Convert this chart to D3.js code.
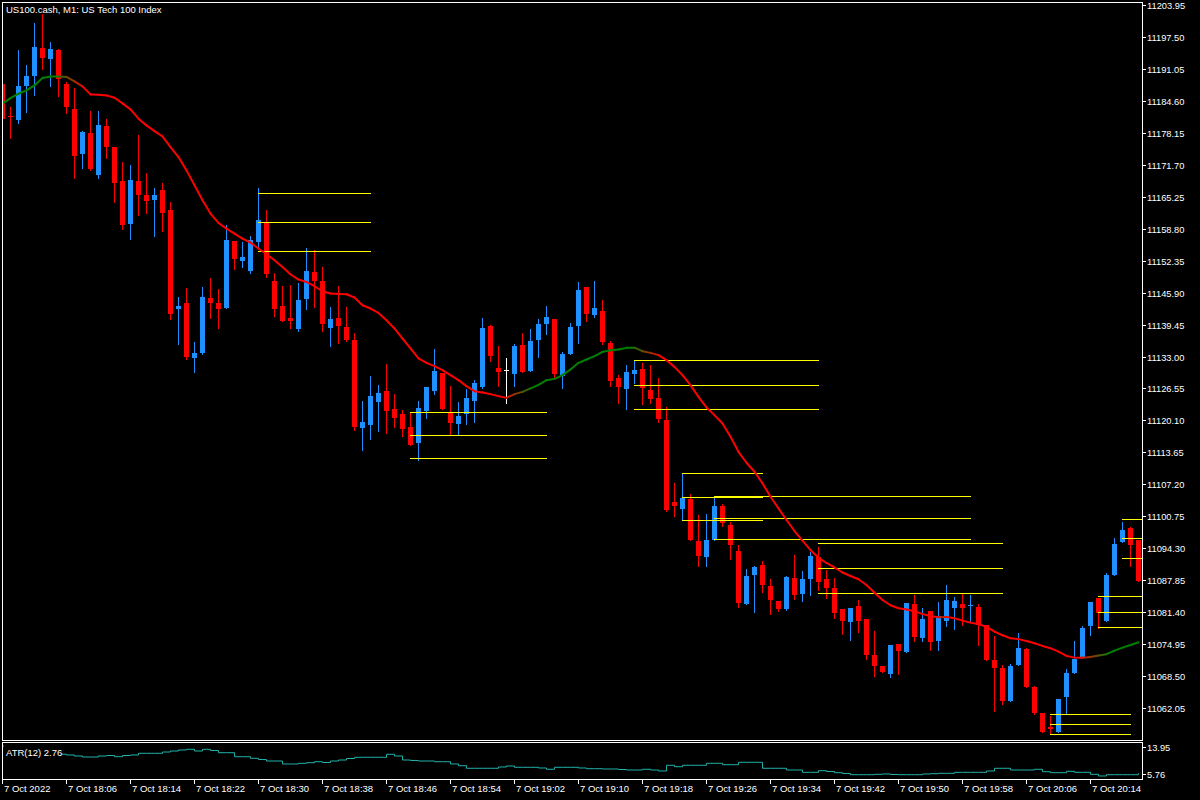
<!DOCTYPE html>
<html><head><meta charset="utf-8">
<script src="https://cdn.jsdelivr.net/npm/d3@7"></script>
<style>html,body{margin:0;padding:0;background:#000;overflow:hidden}</style>
</head><body>
<svg id="c" width="1200" height="800"></svg>
<script>
const title = "US100.cash, M1:  US Tech 100 Index";
const atrLabel = "ATR(12) 2.76";
const timeLabels = ["7 Oct 2022","7 Oct 18:06","7 Oct 18:14","7 Oct 18:22","7 Oct 18:30","7 Oct 18:38","7 Oct 18:46","7 Oct 18:54","7 Oct 19:02","7 Oct 19:10","7 Oct 19:18","7 Oct 19:26","7 Oct 19:34","7 Oct 19:42","7 Oct 19:50","7 Oct 19:58","7 Oct 20:06","7 Oct 20:14"];
const priceTicks = ["11203.95","11197.50","11191.05","11184.60","11178.15","11171.70","11165.25","11158.80","11152.35","11145.90","11139.45","11133.00","11126.55","11120.10","11113.65","11107.20","11100.75","11094.30","11087.85","11081.40","11074.95","11068.50","11062.05"];
const atrTicks = ["13.95","5.76"];

const open = [11187.9,11181.6,11180.7,11187.5,11189.5,11195.3,11192.9,11194.9,11187.9,11183.0,
11173.8,11178.0,11169.7,11179.4,11175.2,11168.3,11159.7,11168.3,11165.5,11164.5,
11166.5,11162.5,11142.5,11143.8,11132.7,11133.7,11144.8,11143.8,11142.7,11156.2,
11152.2,11150.2,11156.0,11160.1,11148.2,11143.1,11140.7,11138.5,11144.6,11150.0,
11148.2,11138.7,11140.7,11138.9,11136.3,11118.6,11119.2,11123.8,11126.0,11122.4,
11121.4,11118.8,11115.5,11122.0,11126.0,11129.6,11121.6,11119.4,11121.4,11124.0,
11126.8,11139.1,11130.6,11130.2,11129.4,11135.3,11130.0,11136.3,11139.5,11140.5,
11129.0,11133.5,11139.1,11147.0,11141.3,11142.1,11135.7,11128.6,11126.4,11129.4,
11130.5,11126.2,11124.6,11120.2,11103.7,11102.2,11104.3,11095.8,11092.6,11096.0,
11102.8,11099.0,11093.8,11083.1,11088.9,11091.0,11086.7,11083.7,11082.1,11088.3,
11085.1,11088.1,11092.6,11088.1,11086.3,11082.1,11079.5,11082.7,11080.1,11072.8,
11070.6,11069.0,11075.0,11073.4,11083.1,11076.2,11081.7,11075.6,11079.7,11082.3,
11083.1,11082.7,11082.5,11078.9,11071.8,11070.2,11063.6,11070.8,11074.0,11066.4,
11061.1,11058.3,11057.3,11064.4,11069.2,11072.4,11078.7,11084.3,11079.7,11088.9,
11095.6,11098.4,11096.0];
const high = [11188.0,11183.4,11194.9,11191.7,11200.2,11202.0,11196.5,11195.1,11188.3,11187.1,
11178.4,11182.6,11182.6,11180.8,11175.2,11172.2,11171.6,11177.6,11170.1,11166.9,
11167.9,11164.1,11145.0,11146.8,11135.9,11147.0,11148.8,11146.6,11159.5,11156.2,
11156.0,11157.3,11166.9,11162.5,11149.8,11147.2,11147.4,11147.8,11154.8,11154.4,
11151.0,11142.9,11147.2,11142.9,11137.7,11124.0,11129.0,11127.2,11131.5,11125.4,
11122.2,11121.8,11124.0,11126.8,11134.5,11129.6,11127.0,11123.8,11126.4,11128.2,
11140.7,11139.3,11135.1,11132.7,11135.5,11137.7,11138.5,11140.5,11143.1,11140.5,
11133.9,11139.7,11148.0,11147.0,11148.2,11144.4,11136.1,11129.2,11131.3,11132.3,
11131.7,11131.3,11128.6,11122.8,11107.5,11109.3,11105.3,11101.0,11101.2,11104.9,
11103.2,11099.6,11095.0,11090.2,11090.8,11091.8,11088.1,11083.7,11088.7,11093.0,
11089.7,11093.6,11094.6,11089.9,11088.3,11082.1,11082.3,11083.9,11080.1,11077.7,
11070.6,11074.8,11075.0,11083.3,11084.9,11082.3,11081.7,11083.5,11086.9,11084.5,
11085.1,11084.9,11083.1,11078.9,11076.7,11070.8,11071.0,11077.3,11074.2,11066.6,
11061.1,11060.5,11064.0,11070.0,11075.6,11078.7,11083.5,11084.3,11089.3,11096.4,
11099.6,11098.6,11096.0];
const low = [11180.7,11177.1,11180.1,11182.3,11185.7,11190.9,11187.5,11185.5,11182.2,11169.1,
11171.0,11170.7,11169.1,11173.0,11164.1,11158.7,11156.6,11161.5,11161.9,11157.3,
11158.3,11140.5,11135.5,11132.5,11129.8,11133.5,11140.7,11138.7,11142.7,11150.6,
11151.0,11149.8,11154.8,11149.0,11141.1,11140.1,11138.7,11138.1,11142.5,11142.9,
11138.1,11135.1,11135.7,11136.1,11118.2,11114.1,11116.3,11118.0,11117.6,11118.8,
11117.0,11115.1,11112.1,11120.6,11125.4,11122.4,11117.4,11117.4,11119.4,11119.8,
11126.6,11132.1,11127.0,11123.6,11127.0,11129.8,11130.0,11132.9,11137.5,11128.6,
11126.6,11133.5,11135.7,11140.1,11140.9,11135.5,11127.0,11123.6,11122.4,11127.6,
11123.4,11123.6,11119.8,11101.8,11100.8,11100.2,11096.0,11090.8,11090.8,11096.0,
11098.8,11092.2,11082.5,11083.1,11081.5,11085.5,11081.1,11081.7,11081.9,11084.1,
11083.7,11084.9,11085.9,11084.3,11080.3,11077.1,11075.8,11077.5,11072.0,11068.6,
11069.4,11068.4,11069.0,11073.4,11075.6,11075.6,11073.8,11073.8,11078.7,11078.1,
11078.9,11079.7,11074.8,11071.8,11061.5,11062.9,11063.6,11070.8,11066.4,11060.9,
11057.3,11056.9,11057.3,11061.1,11069.2,11072.4,11076.9,11078.3,11079.7,11088.9,
11095.6,11090.8,11087.7];
const close = [11180.9,11181.3,11187.5,11189.5,11195.5,11193.3,11195.1,11188.9,11183.4,11173.4,
11178.2,11170.8,11179.6,11175.2,11167.9,11159.5,11168.5,11165.5,11164.3,11165.5,
11161.9,11141.5,11143.1,11132.9,11133.7,11145.0,11143.8,11142.5,11156.4,11152.6,
11153.0,11156.4,11160.5,11149.6,11142.5,11140.1,11140.1,11144.4,11150.2,11148.2,
11139.5,11140.5,11139.1,11136.3,11118.8,11119.8,11125.0,11125.6,11122.0,11120.6,
11118.4,11115.1,11122.6,11126.8,11130.0,11122.4,11119.6,11121.0,11124.6,11127.6,
11138.7,11133.1,11129.8,11130.2,11135.1,11129.8,11136.1,11139.5,11140.9,11129.4,
11133.5,11138.9,11146.4,11141.5,11142.7,11135.9,11128.0,11126.8,11129.8,11130.2,
11126.6,11124.4,11120.4,11102.0,11102.8,11104.5,11096.0,11092.8,11096.0,11102.8,
11099.4,11095.0,11083.3,11088.7,11090.6,11086.9,11083.9,11082.1,11088.5,11084.9,
11088.1,11092.8,11087.5,11086.3,11081.3,11079.7,11082.3,11079.7,11072.8,11070.6,
11069.4,11074.8,11073.6,11083.3,11076.4,11080.1,11075.4,11080.7,11083.9,11083.7,
11082.3,11082.9,11078.9,11071.8,11070.2,11063.6,11070.6,11074.2,11066.4,11061.1,
11057.3,11057.9,11064.0,11069.2,11072.0,11078.3,11083.5,11081.3,11088.9,11095.2,
11098.0,11095.0,11087.7];
const ma = [11183.99,11185.11,11186.00,11186.66,11187.67,11189.18,11189.49,11189.49,11189.39,11188.48,
11187.47,11185.86,11185.80,11185.66,11185.19,11184.05,11182.84,11180.96,11179.61,11178.46,
11177.40,11175.24,11173.23,11170.54,11167.52,11164.50,11161.82,11159.93,11158.80,11157.79,
11156.78,11155.98,11154.77,11153.62,11152.41,11151.06,11149.59,11148.52,11148.04,11147.17,
11146.16,11145.70,11145.62,11145.56,11144.89,11143.34,11142.68,11141.79,11140.32,11138.65,
11136.63,11134.62,11132.60,11131.72,11131.05,11130.24,11129.24,11128.23,11127.02,11126.01,
11125.75,11125.41,11125.01,11124.66,11125.41,11125.87,11126.56,11127.28,11128.23,11128.49,
11129.24,11130.39,11131.72,11132.40,11133.07,11133.93,11134.27,11134.42,11134.74,11134.78,
11134.07,11133.73,11133.27,11132.26,11130.91,11129.24,11127.22,11124.86,11122.73,11121.18,
11119.50,11116.80,11113.78,11111.57,11109.75,11107.42,11104.71,11102.38,11100.02,11097.80,
11095.85,11093.97,11092.42,11091.36,11090.45,11089.44,11088.74,11088.07,11086.92,11085.35,
11083.90,11082.83,11082.23,11081.99,11081.64,11081.04,11080.68,11080.41,11080.45,11080.21,
11079.73,11079.33,11079.00,11078.52,11077.51,11076.79,11076.18,11076.00,11075.64,11075.18,
11074.63,11074.17,11073.48,11072.62,11072.27,11072.25,11072.41,11072.68,11072.96,11073.68,
11074.29,11074.83,11075.38];
const atr = [14.35,14.1,13.7,13.2,12.8,12.4,12.0,11.8,11.56,11.25,
10.94,10.94,11.25,11.41,11.03,11.41,11.56,12.09,12.09,12.09,
12.49,12.80,13.11,13.33,12.80,13.33,12.96,12.27,12.27,11.03,
11.03,10.54,10.17,9.70,9.70,8.77,8.77,8.99,9.17,9.48,
9.23,9.70,10.01,10.48,10.85,10.85,10.85,10.85,11.78,11.25,
10.01,9.86,9.70,9.70,9.48,9.48,8.77,8.24,7.44,7.44,
7.44,7.44,7.84,8.15,7.75,7.75,7.75,7.53,7.13,7.75,
7.75,7.75,7.53,7.31,7.31,7.22,7.22,7.06,6.91,6.91,
7.13,6.91,6.60,8.37,7.93,8.37,8.37,8.37,8.99,8.99,
8.55,8.55,9.30,9.30,9.30,7.44,7.44,7.44,6.91,6.91,
6.19,6.19,6.69,6.44,6.07,5.82,5.45,5.45,5.45,5.57,
5.67,5.51,5.45,5.45,5.45,5.67,5.76,5.88,5.88,6.19,
6.19,6.19,6.19,6.60,7.44,7.44,6.91,6.91,6.91,7.13,
6.38,6.07,6.07,6.50,6.19,6.19,5.57,5.05,5.45,5.45,
5.45,5.45,5.88];
// level groups: start candle, end candle, three price levels
const levelStart = [32,51,79,85,89,102,131,137,140];
const levelEnd   = [46,68,102,95,121,125,141,147,147];
const levelHigh  = [11166.05,11121.72,11132.20,11109.43,11104.80,11095.33,11060.87,11084.71,11100.22];
const levelMid   = [11160.21,11117.09,11127.16,11104.59,11100.36,11090.29,11058.85,11081.42,11096.39];
const levelLow   = [11154.36,11112.45,11122.33,11099.96,11096.13,11085.25,11056.84,11078.40,11092.30];

const svg = d3.select("#c");
svg.append("rect").attr("width",1200).attr("height",800).attr("fill","#000");
const FONT = "'Liberation Sans', Arial, sans-serif";

const n = open.length;
const x = d3.scaleLinear().domain([0, n-1]).range([2.5, 2.5 + 8*(n-1)]);
const y = d3.scaleLinear().domain([+priceTicks[priceTicks.length-1], +priceTicks[0]]).range([708.3, 4.7]);
const ya = d3.scaleLinear().domain([+atrTicks[1], +atrTicks[0]]).range([773.7, 747.3]);

const defs = svg.append("defs");
defs.append("clipPath").attr("id","mainClip").append("rect").attr("x",3).attr("y",3).attr("width",1139).attr("height",737);
defs.append("clipPath").attr("id","atrClip").append("rect").attr("x",3).attr("y",743).attr("width",1139).attr("height",36);

const main = svg.append("g").attr("clip-path","url(#mainClip)");

// candles
const idx = d3.range(n);
const colorOf = i => close[i] > open[i] ? "#1e90ff" : (close[i] < open[i] ? "#ff0000" : "#ffffff");
const cg = main.append("g").attr("shape-rendering","crispEdges");
cg.selectAll("line.w").data(idx).join("line")
  .attr("x1", i => Math.floor(x(i)) + 0.5).attr("x2", i => Math.floor(x(i)) + 0.5)
  .attr("y1", i => Math.round(y(high[i]))).attr("y2", i => Math.round(y(low[i])) + 1)
  .attr("stroke", colorOf).attr("stroke-width",1);
cg.selectAll("rect.b").data(idx).join("rect")
  .attr("x", i => Math.floor(x(i)) - 2).attr("width",5)
  .attr("y", i => Math.round(y(Math.max(open[i], close[i]))))
  .attr("height", i => Math.max(1, Math.round(y(Math.min(open[i], close[i]))) - Math.round(y(Math.max(open[i], close[i])))))
  .attr("fill", colorOf);

// level lines
const lg = main.append("g").attr("shape-rendering","crispEdges");
levelStart.forEach((s, k) => {
  [levelHigh[k], levelMid[k], levelLow[k]].forEach(v => {
    lg.append("line")
      .attr("x1", Math.floor(x(s))).attr("x2", Math.floor(x(levelEnd[k])) + 1)
      .attr("y1", Math.round(y(v)) + 0.5).attr("y2", Math.round(y(v)) + 0.5)
      .attr("stroke", "#ffff00").attr("stroke-width", 1);
  });
});

// moving average with colour transition
const interp = d3.interpolateRgb("#ff0000", "#008000");
let t = 1;
const mg = main.append("g");
for (let i = 1; i < n; i++) {
  let target = ma[i] > ma[i-1] ? 1 : (ma[i] < ma[i-1] ? 0 : t);
  t = t + Math.max(-0.25, Math.min(0.25, target - t));
  mg.append("line")
    .attr("x1", x(i-1)).attr("y1", y(ma[i-1]))
    .attr("x2", x(i)).attr("y2", y(ma[i]))
    .attr("stroke", interp(t)).attr("stroke-width", 2).attr("stroke-linecap","round");
}

// frames
svg.append("rect").attr("x",2.5).attr("y",2.5).attr("width",1140).attr("height",738)
  .attr("fill","none").attr("stroke","#fff").attr("stroke-width",1).attr("shape-rendering","crispEdges");
svg.append("rect").attr("x",2.5).attr("y",742.5).attr("width",1140).attr("height",37)
  .attr("fill","none").attr("stroke","#fff").attr("stroke-width",1).attr("shape-rendering","crispEdges");

// price axis
const pa = svg.append("g");
priceTicks.forEach(s => {
  const yy = Math.round(y(+s)) + 0.5;
  pa.append("line").attr("x1",1142.5).attr("x2",1146).attr("y1",yy).attr("y2",yy)
    .attr("stroke","#fff").attr("shape-rendering","crispEdges");
  pa.append("text").attr("x",1147).attr("y",yy).attr("dy","0.35em")
    .attr("fill","#fff").attr("font-family",FONT).attr("font-size","9.3px").text(s);
});

// ATR panel
const ag = svg.append("g").attr("clip-path","url(#atrClip)");
ag.append("path").datum(idx)
  .attr("d", d3.line().x(i => x(i)).y(i => ya(atr[i])).curve(d3.curveStepAfter))
  .attr("fill","none").attr("stroke","#20b2aa").attr("stroke-width",1);
svg.append("rect").attr("x",4).attr("y",745).attr("width",58).attr("height",13).attr("fill","#000");
svg.append("text").attr("x",6).attr("y",755.5).attr("fill","#fff")
  .attr("font-family",FONT).attr("font-size","9.5px").text(atrLabel);
atrTicks.forEach(s => {
  const yy = Math.round(ya(+s)) + 0.5;
  svg.append("line").attr("x1",1142.5).attr("x2",1146).attr("y1",yy).attr("y2",yy)
    .attr("stroke","#fff").attr("shape-rendering","crispEdges");
  svg.append("text").attr("x",1147).attr("y",yy).attr("dy","0.35em")
    .attr("fill","#fff").attr("font-family",FONT).attr("font-size","9.3px").text(s);
});

// time axis
timeLabels.forEach((s, k) => {
  const xx = Math.floor(x(k*8)) + 0.5;
  svg.append("line").attr("x1",xx).attr("x2",xx).attr("y1",780).attr("y2",784)
    .attr("stroke","#fff").attr("shape-rendering","crispEdges");
  svg.append("text").attr("x",xx + 1.5).attr("y",792).attr("fill","#fff")
    .attr("font-family",FONT).attr("font-size","9.5px").text(s);
});

// title
svg.append("text").attr("x",6).attr("y",12.5).attr("fill","#fff")
  .attr("font-family",FONT).attr("font-size","9.5px").text(title);
</script>
</body></html>
